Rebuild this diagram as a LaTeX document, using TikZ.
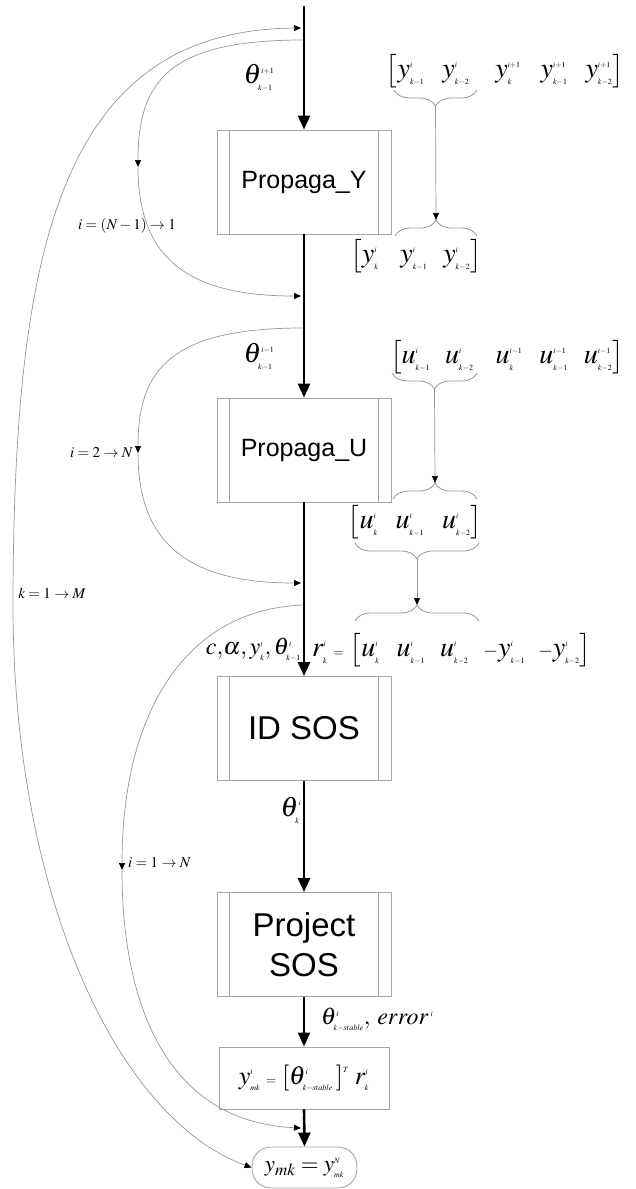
\RequirePackage{fix-cm}
\documentclass[tikz,border=0pt]{standalone}
\usepackage{mathptmx}
\usepackage{fontspec}
\setmainfont{Liberation Sans}
\usetikzlibrary{arrows.meta,decorations.pathreplacing,calc}
\definecolor{boxgray}{RGB}{165,165,165}
\definecolor{curvegray}{RGB}{150,150,150}
\newcommand{\ix}[1]{\mbox{\fontsize{8}{8}\selectfont$#1$}}
\newcommand{\smeq}{\mathrel{\mbox{\fontsize{13}{13}\selectfont$=$}}}
\newcommand{\mn}{\mbox{\fontsize{19}{19}\selectfont$-$}}
\newcommand{\bstrut}{\rule[-10pt]{0pt}{31pt}}
\newcommand{\fstrut}{\rule[-6pt]{0pt}{22pt}}
\begin{document}
\begin{tikzpicture}[x=1pt,y=-1pt,
  procbox/.style={draw=boxgray, line width=0.9pt, minimum width=174pt, minimum height=104pt,
    inner sep=0pt, font=\fontsize{25}{30}\selectfont, align=center},
  formbox/.style={draw=boxgray, line width=0.9pt, minimum width=170pt, minimum height=62pt, inner sep=0pt},
  ovalbox/.style={draw=boxgray, line width=0.9pt, minimum width=105pt, minimum height=41pt,
    rounded corners=19pt, inner sep=0pt},
  mainarrow/.style={draw=black, line width=2.6pt, -{Triangle[length=14pt,width=12pt]}},
  loopline/.style={draw=curvegray, line width=0.7pt},
  looptip/.style={-{Triangle[length=7pt,width=6pt,color=black]}},
  brc/.style={draw=curvegray, line width=0.8pt, decorate},
  mth/.style={inner sep=0pt, font=\fontsize{28}{32}\selectfont},
  mths/.style={inner sep=0pt, font=\fontsize{24}{28}\selectfont},
  lbl/.style={inner sep=0pt, font=\fontsize{15}{18}\selectfont}
]
\useasboundingbox (0,0) rectangle (635,1189);

% main boxes
\node[procbox] (Y) at (304,182) {Propaga\_Y};
\node[procbox] (U) at (304,450) {Propaga\_U};
\node[procbox, font=\fontsize{33}{40}\selectfont] (ID) at (304,728.5) {ID SOS};
\node[procbox, font=\fontsize{33}{40}\selectfont] (PS) at (304,944.5) {Project\\SOS};
\foreach \b in {Y,U,ID,PS}{
  \draw[boxgray, line width=0.9pt] ([xshift=13pt]\b.north west) -- ([xshift=13pt]\b.south west);
  \draw[boxgray, line width=0.9pt] ([xshift=-13pt]\b.north east) -- ([xshift=-13pt]\b.south east);
}
\node[formbox, font=\fontsize{26}{30}\selectfont] (F) at (304,1078)
  {$y^{\ix i}_{\ix{mk}}\smeq\left[\fstrut\theta^{\ix i}_{\ix{k{-}stable}}\,\right]^{\ix T}\, r^{\ix i}_{\ix k}$};
\node[ovalbox, font=\fontsize{23}{27}\selectfont] (O) at (304.5,1167.5)
  {$y_{mk}=y^{\ix N}_{\ix{mk}}$};

% main flow
\coordinate (top) at (304,6);
\draw[mainarrow] (top) -- (Y.north);
\draw[mainarrow] (Y.south) -- (U.north);
\draw[mainarrow] (U.south) -- (ID.north);
\draw[mainarrow] (ID.south) -- (PS.north);
\draw[mainarrow] (PS.south) -- (F.north);
\draw[mainarrow] (F.south) -- (O.north);

% loop anchor points on the main line
\coordinate (a1) at (301,28);
\coordinate (a2) at (303,40);
\coordinate (a3) at (301,296);
\coordinate (a4) at (303,328);
\coordinate (a5) at (301,583);
\coordinate (a6) at (303,605);
\coordinate (a7) at (301,1128);
\coordinate (m1) at (138,167);
\coordinate (m2) at (138,453);
\coordinate (m3) at (122,870);
\coordinate (ko) at (13,600);

% outer loop k
\draw[loopline, {Triangle[length=7pt,width=6pt,color=black]}-{Triangle[length=7pt,width=6pt,color=black]}]
  (a1) .. controls (60,30) and (14,250) .. (ko) .. controls (12,900) and (120,1120) .. (O.west);
% loop i = (N-1) -> 1
\draw[loopline, looptip] (a2) .. controls (170,40) and (138,80) .. (m1);
\draw[loopline, looptip] (m1) .. controls (138,260) and (190,296) .. (a3);
% loop i = 2 -> N
\draw[loopline, looptip] (a4) .. controls (170,328) and (138,370) .. (m2);
\draw[loopline, looptip] (m2) .. controls (138,545) and (190,583) .. (a5);
% loop i = 1 -> N
\draw[loopline, looptip] (a6) .. controls (180,610) and (122,720) .. (m3);
\draw[loopline, looptip] (m3) .. controls (122,1010) and (170,1122) .. (a7);

% loop labels
\node[lbl] (l1) at (127,226) {$i=(N-1)\rightarrow 1$};
\node[lbl, anchor=east] (l2) at (133,453) {$i=2\rightarrow N$};
\node[lbl] (l3) at (52,593) {$k=1\rightarrow M$};
\node[lbl, anchor=west] (l4) at (128,863) {$i=1\rightarrow N$};

% theta labels
\node[mth] (t1) at (259,78) {$\theta^{\ix{i{+}1}}_{\ix{k{-}1}}$};
\node[mth] (t2) at (259,357) {$\theta^{\ix{i{-}1}}_{\ix{k{-}1}}$};
\node[mth] (t3) at (291,810) {$\theta^{\ix i}_{\ix k}$};
\node[mths, anchor=east] (cl) at (301,650) {$c{,}\alpha{,}\,y^{\ix i}_{\ix k}{,}\,\theta^{\ix i}_{\ix{k{-}1}}$};
\node[mth, anchor=west] (rr) at (312,650) {$r^{\ix i}_{\ix k}\smeq\left[\bstrut u^{\ix i}_{\ix k}\hspace{17pt}u^{\ix i}_{\ix{k{-}1}}\hspace{15pt}u^{\ix i}_{\ix{k{-}2}}\hspace{15pt}\mn y^{\ix i}_{\ix{k{-}1}}\hspace{13pt}\mn y^{\ix i}_{\ix{k{-}2}}\right]$};
\node[mths, anchor=west] (te) at (321,1020) {$\theta^{\ix i}_{\ix{k{-}stable}}{,}\ error^{\,\ix i}$};

% vector rows
\node[mth] (ry1) at (505,71) {$\left[\bstrut y^{\ix i}_{\ix{k{-}1}}\hspace{18pt}y^{\ix i}_{\ix{k{-}2}}\hspace{26pt}y^{\ix{i{+}1}}_{\ix k}\hspace{20pt}y^{\ix{i{+}1}}_{\ix{k{-}1}}\hspace{18pt}y^{\ix{i{+}1}}_{\ix{k{-}2}}\right]$};
\node[mth] (ry2) at (416,256) {$\left[\bstrut y^{\ix i}_{\ix k}\hspace{22pt}y^{\ix i}_{\ix{k{-}1}}\hspace{16pt}y^{\ix i}_{\ix{k{-}2}}\right]$};
\node[mth] (ru1) at (507,357) {$\left[\bstrut u^{\ix i}_{\ix{k{-}1}}\hspace{15pt}u^{\ix i}_{\ix{k{-}2}}\hspace{22pt}u^{\ix{i{-}1}}_{\ix k}\hspace{17pt}u^{\ix{i{-}1}}_{\ix{k{-}1}}\hspace{16pt}u^{\ix{i{-}1}}_{\ix{k{-}2}}\right]$};
\node[mth] (ru2) at (415,522) {$\left[\bstrut u^{\ix i}_{\ix k}\hspace{18pt}u^{\ix i}_{\ix{k{-}1}}\hspace{18pt}u^{\ix i}_{\ix{k{-}2}}\right]$};

% braces and their arrows
\coordinate (b1l) at (394,90);  \coordinate (b1r) at (477,90);  \coordinate (b1t) at (435.5,106);
\coordinate (b2l) at (395,236); \coordinate (b2r) at (477,236); \coordinate (b2t) at (436,220);
\coordinate (b3l) at (392,373); \coordinate (b3r) at (477,373); \coordinate (b3t) at (434.5,389);
\coordinate (b4l) at (393,499); \coordinate (b4r) at (477,499); \coordinate (b4t) at (435,483);
\coordinate (b5l) at (355,543); \coordinate (b5r) at (479,543); \coordinate (b5t) at (417,559);
\coordinate (b6l) at (355,621); \coordinate (b6r) at (479,621); \coordinate (b6t) at (417,605);
\draw[brc, decoration={brace,mirror,amplitude=16pt}] (b1l) -- (b1r);
\draw[brc, decoration={brace,amplitude=16pt}] (b2l) -- (b2r);
\draw[brc, decoration={brace,mirror,amplitude=16pt}] (b3l) -- (b3r);
\draw[brc, decoration={brace,amplitude=16pt}] (b4l) -- (b4r);
\draw[brc, decoration={brace,mirror,amplitude=16pt}] (b5l) -- (b5r);
\draw[brc, decoration={brace,amplitude=16pt}] (b6l) -- (b6r);
\draw[loopline, looptip] (b1t) -- (b2t);
\draw[loopline, looptip] (b3t) -- (b4t);
\draw[loopline, looptip] (b5t) -- (b6t);
\end{tikzpicture}
\end{document}
